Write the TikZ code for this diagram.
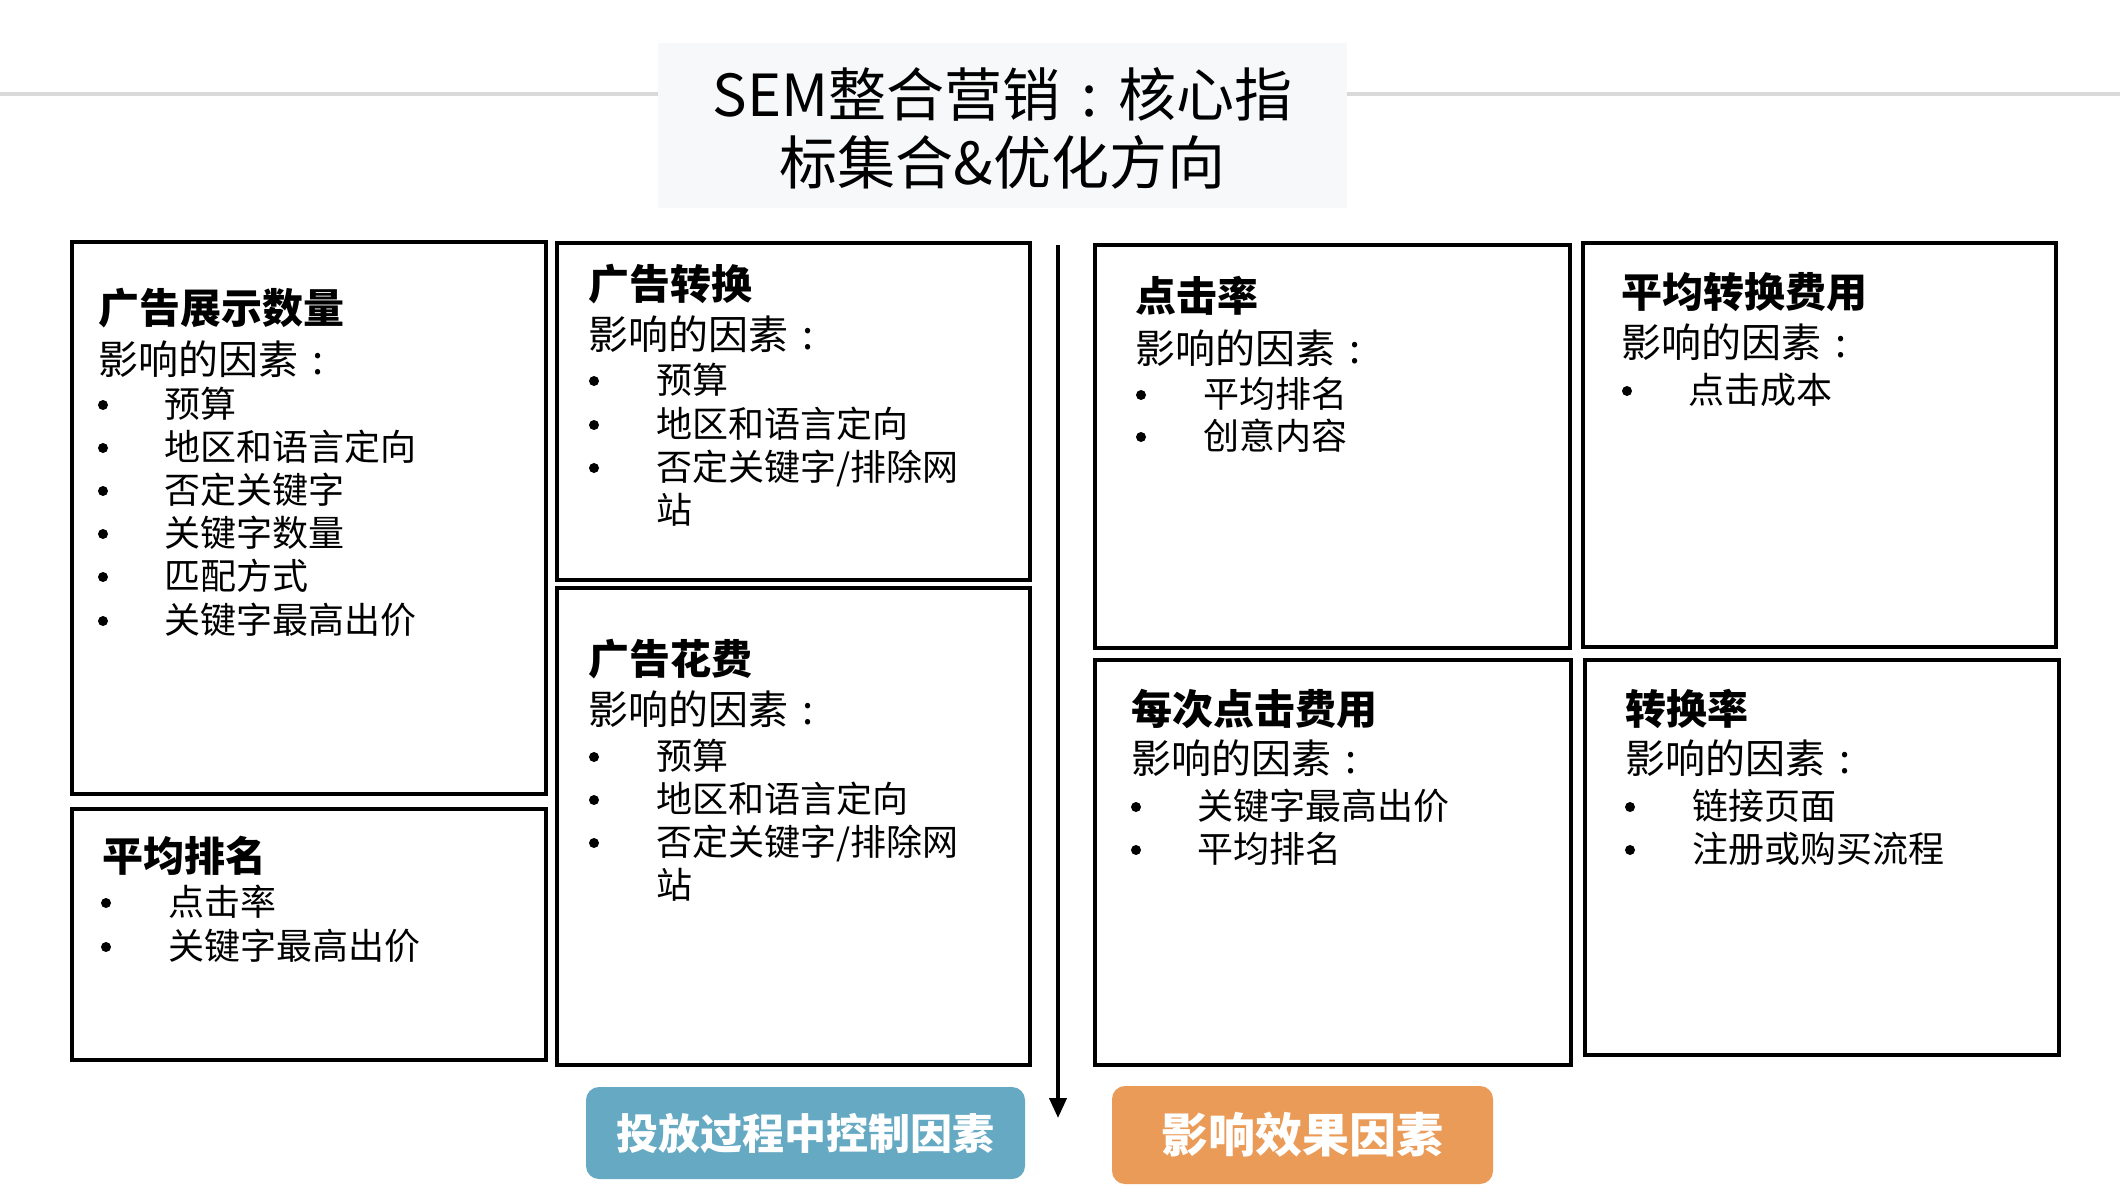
\documentclass[tikz,border=0pt]{standalone}
\usepackage{fontspec}
\setmainfont{Noto Sans CJK SC}[BoldFont={Noto Sans CJK SC Bold}]
\newfontfamily\heavy{Noto Sans CJK SC Black}
\usetikzlibrary{arrows.meta}
\definecolor{btnblue}{HTML}{66A9C3}
\definecolor{btnorange}{HTML}{EA9B58}
\definecolor{titlebg}{HTML}{F7F8F9}
\definecolor{rulegray}{HTML}{D9D9D9}
\newcommand\fwcolon{\makebox[1em][c]{:}}
\tikzset{
  card/.style={draw=black,line width=3.5pt,fill=none},
  ttl/.style={anchor=base west,inner sep=0pt,font=\fontsize{41}{48}\selectfont\heavy},
  sub/.style={anchor=base west,inner sep=0pt,font=\fontsize{40}{48}\selectfont},
  itm/.style={anchor=base west,inner sep=0pt,font=\fontsize{36}{42}\selectfont},
  bul/.style={circle,fill=black,inner sep=0pt,minimum size=10pt},
  btn/.style={rounded corners=13pt,text=white,font=\fontsize{42}{48}\selectfont\heavy}
}
% \bitem{name}{bullet x}{text x}{center y}{text}
\newcommand\bitem[5]{%
  \node[bul] (#1b) at (#2,#4+1) {};
  \node[itm] (#1) at (#3,#4+13.5) {#5};}
\begin{document}
\begin{tikzpicture}[x=1pt,y=-1pt]
\useasboundingbox (0,0) rectangle (2120,1194);
\fill[white] (0,0) rectangle (2120,1194);
% gray rule and title
\draw[rulegray,line width=4pt] (0,94) -- (2120,94);
\node[fill=titlebg,minimum width=689pt,minimum height=165pt,inner sep=0pt] (titlebox) at (1002.5,125.5) {};
\node[align=center,inner sep=0pt,font=\fontsize{58}{68}\selectfont] (title) at (1002.5,128) {SEM整合营销\fwcolon 核心指\\标集合\&优化方向};
% cards
\draw[card] (72,242) rectangle (546,794) node[coordinate] (c1) {};
\draw[card] (72,809) rectangle (546,1060) node[coordinate] (c2) {};
\draw[card] (557,243) rectangle (1030,580) node[coordinate] (c3) {};
\draw[card] (557,588) rectangle (1030,1065) node[coordinate] (c4) {};
\draw[card] (1095,245) rectangle (1570,648) node[coordinate] (c5) {};
\draw[card] (1583,243) rectangle (2056,647) node[coordinate] (c6) {};
\draw[card] (1095,660) rectangle (1571,1065) node[coordinate] (c7) {};
\draw[card] (1585,660) rectangle (2059,1055) node[coordinate] (c8) {};
% card 1
\node[ttl] (t1) at (98,308+15) {广告展示数量};
\node[sub] (s1) at (98,359+15) {影响的因素\fwcolon};
\bitem{a1}{103}{164}{404}{预算}
\bitem{a2}{103}{164}{447}{地区和语言定向}
\bitem{a3}{103}{164}{490}{否定关键字}
\bitem{a4}{103}{164}{533}{关键字数量}
\bitem{a5}{103}{164}{576}{匹配方式}
\bitem{a6}{103}{164}{620}{关键字最高出价}
% card 2
\node[ttl] (t2) at (102,856+15) {平均排名};
\bitem{b1}{106}{168}{902}{点击率}
\bitem{b2}{106}{168}{946}{关键字最高出价}
% card 3
\node[ttl] (t3) at (588,284+15) {广告转换};
\node[sub] (s3) at (588,334+15) {影响的因素\fwcolon};
\bitem{c1i}{594}{656}{380}{预算}
\bitem{c2i}{594}{656}{424}{地区和语言定向}
\bitem{c3i}{594}{656}{467}{否定关键字/排除网}
\node[itm] (c4i) at (656,510+13.5) {站};
% card 4
\node[ttl] (t4) at (588,659+15) {广告花费};
\node[sub] (s4) at (588,709+15) {影响的因素\fwcolon};
\bitem{d1}{594}{656}{756}{预算}
\bitem{d2}{594}{656}{799}{地区和语言定向}
\bitem{d3}{594}{656}{842}{否定关键字/排除网}
\node[itm] (d4) at (656,885+13.5) {站};
% card 5
\node[ttl] (t5) at (1135,296+15) {点击率};
\node[sub] (s5) at (1135,348+15) {影响的因素\fwcolon};
\bitem{e1}{1141}{1203}{394}{平均排名}
\bitem{e2}{1141}{1203}{436}{创意内容}
% card 6
\node[ttl] (t6) at (1621,292+15) {平均转换费用};
\node[sub] (s6) at (1621,342+15) {影响的因素\fwcolon};
\bitem{f1}{1627}{1688}{390}{点击成本}
% card 7
\node[ttl] (t7) at (1131,709+15) {每次点击费用};
\node[sub] (s7) at (1131,758+15) {影响的因素\fwcolon};
\bitem{g1}{1136}{1197}{806}{关键字最高出价}
\bitem{g2}{1136}{1197}{849}{平均排名}
% card 8
\node[ttl] (t8) at (1625,709+15) {转换率};
\node[sub] (s8) at (1625,758+15) {影响的因素\fwcolon};
\bitem{h1}{1630}{1692}{806}{链接页面}
\bitem{h2}{1630}{1692}{849}{注册或购买流程}
% divider arrow
\coordinate (ltop) at (1058,245);
\coordinate (lend) at (1058,1118);
\draw[line width=4pt,-{Triangle[length=20pt,width=17pt]}] (ltop) -- (lend);
% buttons
\node[btn,fill=btnblue,minimum width=439pt,minimum height=92pt] (btn1) at (805.5,1133) {投放过程中控制因素};
\node[btn,fill=btnorange,minimum width=381pt,minimum height=98pt,font=\fontsize{47}{52}\selectfont\heavy] (btn2) at (1302.5,1135) {影响效果因素};
\end{tikzpicture}
\end{document}
